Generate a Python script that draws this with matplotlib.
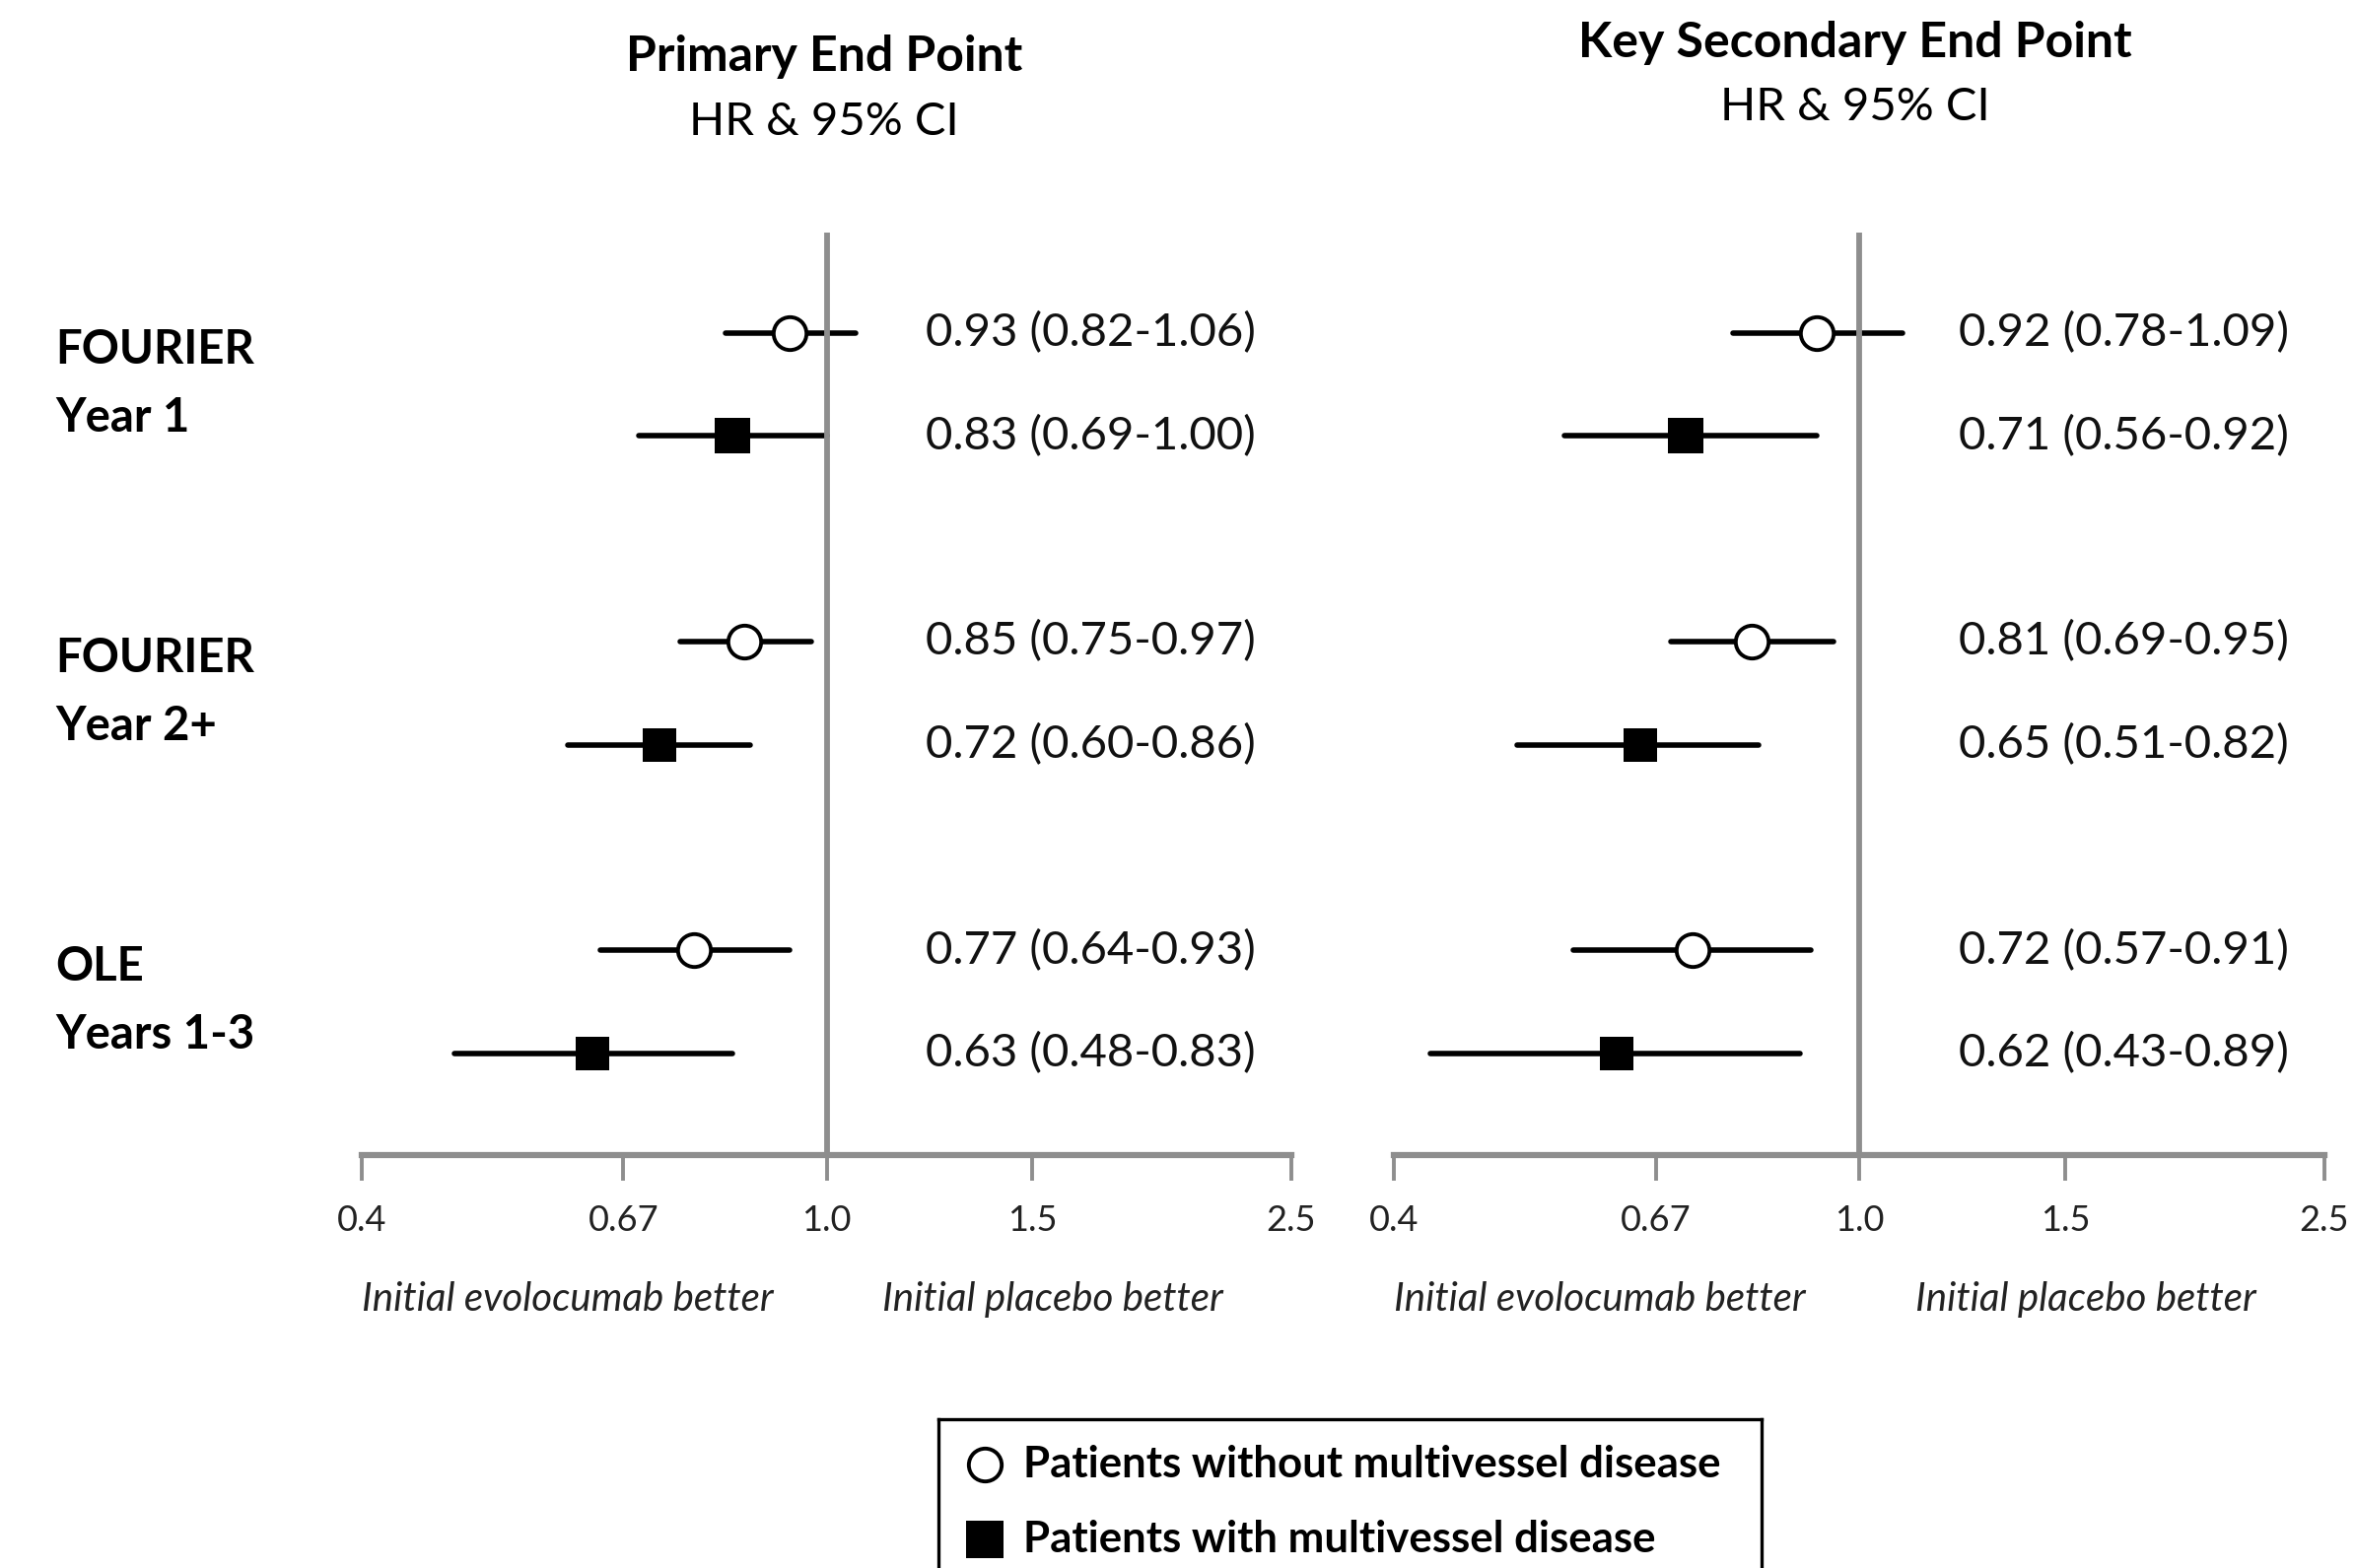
import matplotlib
matplotlib.use('Agg')
import matplotlib.pyplot as plt
from matplotlib.ticker import NullLocator
from matplotlib.transforms import blended_transform_factory

plt.rcParams['font.family'] = ['Lato', 'DejaVu Sans']

# data
groups = [('FOURIER', 'Year 1'), ('FOURIER', 'Year 2+'), ('OLE', 'Years 1-3')]

prim_without_hr = [0.93, 0.85, 0.77]
prim_without_lo = [0.82, 0.75, 0.64]
prim_without_hi = [1.06, 0.97, 0.93]
prim_with_hr = [0.83, 0.72, 0.63]
prim_with_lo = [0.69, 0.60, 0.48]
prim_with_hi = [1.00, 0.86, 0.83]

sec_without_hr = [0.92, 0.81, 0.72]
sec_without_lo = [0.78, 0.69, 0.57]
sec_without_hi = [1.09, 0.95, 0.91]
sec_with_hr = [0.71, 0.65, 0.62]
sec_with_lo = [0.56, 0.51, 0.43]
sec_with_hi = [0.92, 0.82, 0.89]

tick_vals = [0.4, 0.67, 1.0, 1.5, 2.5]
tick_labels = ['0.4', '0.67', '1.0', '1.5', '2.5']

legend_labels = ['Patients without multivessel disease', 'Patients with multivessel disease']

W, H = 2389, 1591
gray = '#8e8e8e'
sq_sizes = [26.6, 23.8, 23.8]

fig = plt.figure(figsize=(W / 100, H / 100), dpi=100)


def px_box(x0, x1, ytop, ybot):
    return [x0 / W, 1 - ybot / H, (x1 - x0) / W, (ybot - ytop) / H]


ax_l = fig.add_axes(px_box(367, 1310, 236, 1172))
ax_r = fig.add_axes(px_box(1414, 2358, 236, 1172))

panels = [
    (ax_l, prim_without_hr, prim_without_lo, prim_without_hi, prim_with_hr, prim_with_lo, prim_with_hi),
    (ax_r, sec_without_hr, sec_without_lo, sec_without_hi, sec_with_hr, sec_with_lo, sec_with_hi),
]

for ax, w_hr, w_lo, w_hi, m_hr, m_lo, m_hi in panels:
    ax.set_xscale('log')
    ax.set_xlim(0.4, 2.5)
    ax.set_ylim(-7.99, 0.977)
    for side in ['top', 'left', 'right']:
        ax.spines[side].set_visible(False)
    ax.spines['bottom'].set_color(gray)
    ax.spines['bottom'].set_linewidth(4.5)
    ax.set_yticks([])
    ax.set_xticks(tick_vals)
    ax.set_xticklabels(tick_labels)
    ax.xaxis.set_minor_locator(NullLocator())
    ax.tick_params(axis='x', length=19, width=2.8, color=gray, pad=17,
                   labelsize=26, labelcolor='#222222')
    ax.axvline(1.0, color=gray, lw=4.2, zorder=3)

    tr = blended_transform_factory(ax.transAxes, ax.transData)
    for g in range(len(groups)):
        y1 = -(3 * g)
        y2 = -(3 * g + 1)
        ax.plot([w_lo[g], w_hi[g]], [y1, y1], color='black', lw=4, solid_capstyle='round', zorder=2)
        ax.plot(w_hr[g], y1, 'o', ms=24, mfc='white', mec='black', mew=2.8, zorder=4)
        ax.plot([m_lo[g], m_hi[g]], [y2, y2], color='black', lw=4, solid_capstyle='round', zorder=2)
        ax.plot(m_hr[g], y2, 's', ms=sq_sizes[g], mfc='black', mec='black', mew=0, zorder=4)
        ax.text(0.607, y1, f'{w_hr[g]:.2f} ({w_lo[g]:.2f}-{w_hi[g]:.2f})', transform=tr,
                fontsize=34, ha='left', va='center', color='#111111')
        ax.text(0.607, y2, f'{m_hr[g]:.2f} ({m_lo[g]:.2f}-{m_hi[g]:.2f})', transform=tr,
                fontsize=34, ha='left', va='center', color='#111111')

    ax.text(0.221, -0.157, 'Initial evolocumab better', transform=ax.transAxes,
            fontsize=29, style='italic', ha='center', va='center', color='#222222')
    ax.text(0.743, -0.157, 'Initial placebo better', transform=ax.transAxes,
            fontsize=29, style='italic', ha='center', va='center', color='#222222')

# group labels on the left
tr_lab = blended_transform_factory(fig.transFigure, ax_l.transData)
for g, (l1, l2) in enumerate(groups):
    mid = -(3 * g + 0.5)
    fig.text(56 / W, mid + 0.34, l1, transform=tr_lab, fontsize=34, fontweight='bold',
             ha='left', va='center')
    fig.text(56 / W, mid - 0.32, l2, transform=tr_lab, fontsize=34, fontweight='bold',
             ha='left', va='center')

# panel titles
fig.text(836 / W, 1 - 58 / H, 'Primary End Point', fontsize=36, fontweight='bold', ha='center', va='center')
fig.text(836 / W, 1 - 124 / H, 'HR & 95% CI', fontsize=34, ha='center', va='center')
fig.text(1882 / W, 1 - 43 / H, 'Key Secondary End Point', fontsize=36, fontweight='bold', ha='center', va='center')
fig.text(1882 / W, 1 - 109 / H, 'HR & 95% CI', fontsize=34, ha='center', va='center')

# legend box, running off the bottom edge
ax_leg = fig.add_axes([952 / W, -0.05, 835 / W, (1 - 1440 / H) + 0.05])
ax_leg.set_xlim(0, 835)
ax_leg.set_ylim(H * 1.05, 1440)
ax_leg.set_xticks([])
ax_leg.set_yticks([])
for s in ax_leg.spines.values():
    s.set_color('black')
    s.set_linewidth(2.4)
ax_leg.plot(47, 1486, 'o', ms=24, mfc='white', mec='black', mew=2.8)
ax_leg.plot(47, 1562, 's', ms=27, mfc='black', mec='black', mew=0)
ax_leg.text(86, 1486, legend_labels[0], fontsize=31.5, fontweight='bold', ha='left', va='center')
ax_leg.text(86, 1562, legend_labels[1], fontsize=31.5, fontweight='bold', ha='left', va='center')

fig.savefig('out.png', dpi=100)
